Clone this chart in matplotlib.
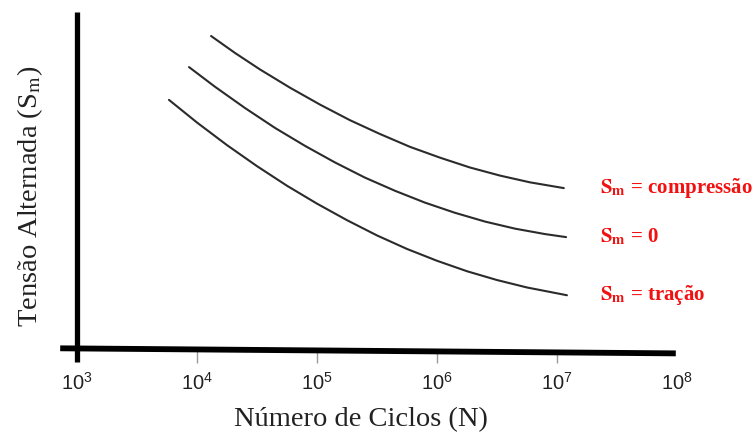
import matplotlib
matplotlib.use("Agg")
import matplotlib.pyplot as plt
from matplotlib.ticker import FixedLocator, FixedFormatter, NullLocator

# Número de ciclos (N) e tensão alternada (unidades arbitrárias) para cada curva S-N
n_compressao = [1.31e4, 2.07e4, 3.35e4, 5.96e4, 1.06e5, 1.88e5, 3.35e5,
                5.96e5, 1.06e6, 1.88e6, 3.35e6, 5.96e6, 1.14e7]
s_compressao = [92.9, 87.9, 83.0, 77.6, 72.6, 68.0, 63.9,
                60.1, 56.9, 54.0, 51.6, 49.6, 47.9]

n_zero = [8.58e3, 1.41e4, 2.51e4, 4.47e4, 7.94e4, 1.41e5, 2.51e5,
          4.47e5, 7.94e5, 1.41e6, 2.51e6, 4.47e6, 7.94e6, 1.19e7]
s_zero = [83.7, 77.9, 71.6, 65.7, 60.4, 55.5, 51.0,
          47.1, 43.6, 40.6, 38.0, 35.9, 34.3, 33.4]

n_tracao = [5.84e3, 1.0e4, 1.78e4, 3.16e4, 5.62e4, 1.0e5, 1.78e5,
            3.16e5, 5.62e5, 1.0e6, 1.78e6, 3.16e6, 5.62e6, 1.21e7]
s_tracao = [74.0, 67.3, 60.6, 54.4, 48.6, 43.3, 38.4,
            33.9, 29.9, 26.4, 23.3, 20.7, 18.5, 16.2]

curve_labels = [r"$\mathbf{S}_{\mathbf{m}}$ = compressão",
                r"$\mathbf{S}_{\mathbf{m}}$ = 0",
                r"$\mathbf{S}_{\mathbf{m}}$ = tração"]

tick_values = [1e3, 1e4, 1e5, 1e6, 1e7, 1e8]
tick_labels = [r"$10^{3}$", r"$10^{4}$", r"$10^{5}$", r"$10^{6}$", r"$10^{7}$", r"$10^{8}$"]

x_label = "Número de Ciclos (N)"
y_label = r"Tensão Alternada (S$_{\mathrm{m}}$)"

plt.rcParams["mathtext.fontset"] = "custom"
plt.rcParams["mathtext.rm"] = "Liberation Sans"
plt.rcParams["mathtext.it"] = "Liberation Sans:italic"
plt.rcParams["mathtext.bf"] = "Liberation Sans:bold"

W, H = 756, 437
fig = plt.figure(figsize=(W / 100, H / 100), dpi=100)
fig.patch.set_facecolor("white")
ax = fig.add_axes([77 / W, 87 / H, 600 / W, 338 / H])
ax.set_xscale("log")
ax.set_xlim(1e3, 1e8)
ax.set_ylim(0, 100)
for sp in ax.spines.values():
    sp.set_visible(False)
ax.set_yticks([])

# Eixos desenhados como traços grossos que se cruzam na origem
ax.plot([0.0, 0.0], [-0.036, 1.0], transform=ax.transAxes, color="black",
        lw=3.8, clip_on=False, solid_capstyle="butt", zorder=3)
ax.plot([-0.028, 0.998], [0.005, -0.010], transform=ax.transAxes, color="black",
        lw=4.2, clip_on=False, solid_capstyle="butt", zorder=3)

ax.xaxis.set_major_locator(FixedLocator(tick_values))
ax.xaxis.set_major_formatter(FixedFormatter(tick_labels))
ax.xaxis.set_minor_locator(NullLocator())
ax.tick_params(axis="x", direction="out", length=9, width=1.0, color="#9a9a9a",
               pad=7, labelsize=14.5, labelcolor="#222222")
for i, t in enumerate(ax.xaxis.get_major_ticks()):
    if i in (0, len(tick_values) - 1):
        t.tick1line.set_visible(False)

series = [(n_compressao, s_compressao), (n_zero, s_zero), (n_tracao, s_tracao)]
label_x = 2.3e7
for (n, s), lab in zip(series, curve_labels):
    ax.plot(n, s, color="#2b2b2b", lw=1.5, solid_capstyle="round",
            solid_joinstyle="round", zorder=2)
    ax.text(label_x, s[-1], lab, color="#f21010", fontsize=15,
            family="Liberation Serif", weight="bold", math_fontfamily="stix",
            ha="left", va="center")

ax.set_xlabel(x_label, family="Liberation Serif", fontsize=20.5, color="#222222")
ax.xaxis.label.set_va("center")
ax.xaxis.set_label_coords(0.473, -0.207)

ax.set_ylabel(y_label, family="Liberation Serif", fontsize=20.5, color="#222222",
              math_fontfamily="stix")
ax.yaxis.label.set_va("center")
ax.yaxis.set_label_coords(-0.078, 0.455)

fig.savefig("out.png", dpi=100, facecolor="white")
